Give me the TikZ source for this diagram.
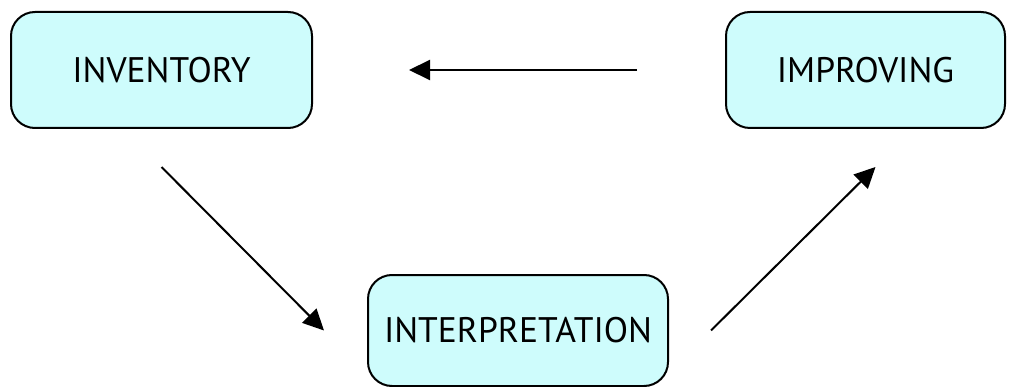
\documentclass[tikz,border=0pt]{standalone}
\usepackage{fontspec}
\setmainfont{PT Sans}
\usetikzlibrary{positioning, arrows.meta}
\definecolor{boxcyan}{RGB}{206,252,252}

\begin{document}
\begin{tikzpicture}[x=1pt, y=-1pt, >={Triangle[length=21pt,width=20pt]},
  stage/.style={draw, line width=2pt, fill=boxcyan, rounded corners=24pt,
    minimum height=116pt, font=\fontsize{35.5}{38}\selectfont},
  link/.style={->, line width=2pt}]
\useasboundingbox (0,0) rectangle (1016,387);
\node[stage, minimum width=301pt] (inv) at (161.5,70) {INVENTORY};
\node[stage, minimum width=279pt] (impr) at (865.5,70) {IMPROVING};
\node[stage, minimum width=300pt, minimum height=111pt] (interp) at (518,330.5) {INTERPRETATION};
% cycle of arrows
\draw[link, shorten <=88pt, shorten >=96pt] (impr.west) -- (inv.east);
\draw[link] ([yshift=-38pt]inv.south) -- ([xshift=-43pt]interp.west);
\draw[link] ([xshift=42pt]interp.east) -- ([xshift=10pt,yshift=-38pt]impr.south);

\end{tikzpicture}
\end{document}
